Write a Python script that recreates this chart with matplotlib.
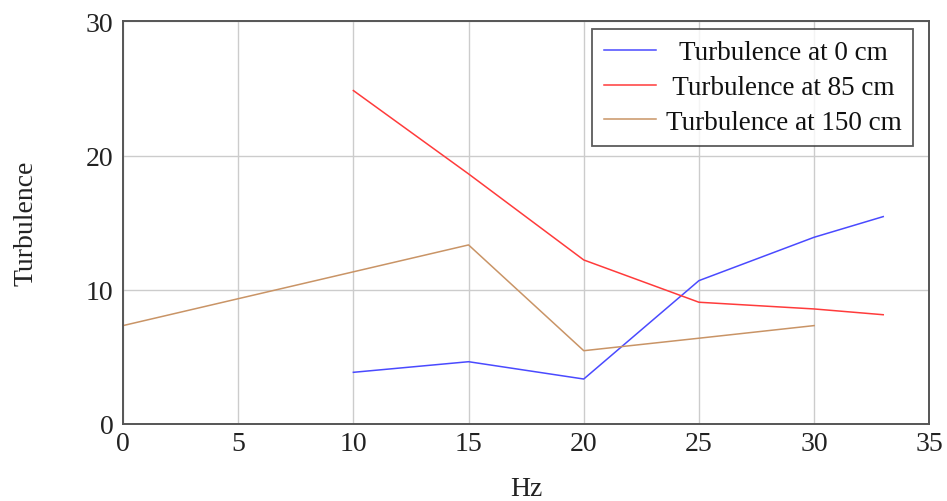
import matplotlib
matplotlib.use("Agg")
import matplotlib.pyplot as plt

# Turbulence measured at three heights versus fan frequency
hz_0cm = [10, 15, 20, 25, 30, 33]
turb_0cm = [3.85, 4.64, 3.35, 10.68, 13.91, 15.45]

hz_85cm = [10, 15, 20, 25, 30, 33]
turb_85cm = [24.84, 18.63, 12.22, 9.07, 8.57, 8.14]

hz_150cm = [0, 15, 20, 25, 30]
turb_150cm = [7.33, 13.34, 5.46, 6.39, 7.33]

# leading spaces keep the legend entries visually centred
labels = ["  Turbulence at 0 cm", " Turbulence at 85 cm", "Turbulence at 150 cm"]
colors = ["#4a4aff", "#ff3b3b", "#c99466"]

x_ticks = [0, 5, 10, 15, 20, 25, 30, 35]
y_ticks = [0, 10, 20, 30]

plt.rcParams["font.family"] = ["Liberation Serif", "DejaVu Serif"]

fig = plt.figure(figsize=(9.47, 5.02), dpi=100)
ax = fig.add_axes([0.1299, 0.1534, 0.8514, 0.8022])

for xs, ys, lab, col in zip([hz_0cm, hz_85cm, hz_150cm],
                            [turb_0cm, turb_85cm, turb_150cm],
                            labels, colors):
    ax.plot(xs, ys, color=col, lw=1.1, label=lab)

ax.set_xlim(0, 35)
ax.set_ylim(0, 30)
ax.set_xticks(x_ticks)
ax.set_yticks(y_ticks)
ax.grid(True, color="#cccccc", lw=1.0)
ax.set_axisbelow(True)
for s in ax.spines.values():
    s.set_color("#555555")
    s.set_linewidth(1.4)
ax.tick_params(direction="in", length=0, labelsize=20, colors="#222222", pad=5)
ax.tick_params(axis="y", pad=7)

ax.set_xlabel("Hz", fontsize=20, color="#222222")
ax.set_ylabel("Turbulence", fontsize=20, color="#222222")
ax.xaxis.set_label_coords(0.5, -0.130)
ax.yaxis.set_label_coords(-0.105, 0.5)

leg = ax.legend(loc="upper right", bbox_to_anchor=(0.9798, 0.981), borderaxespad=0,
                fontsize=19.5, frameon=True, fancybox=False, edgecolor="#333333",
                handlelength=1.95, handletextpad=0.35, borderpad=0.42,
                labelspacing=0.36)
leg.get_frame().set_linewidth(1.3)
for t in leg.get_texts():
    t.set_color("#111111")

fig.savefig("out.png", dpi=100, facecolor="white")
